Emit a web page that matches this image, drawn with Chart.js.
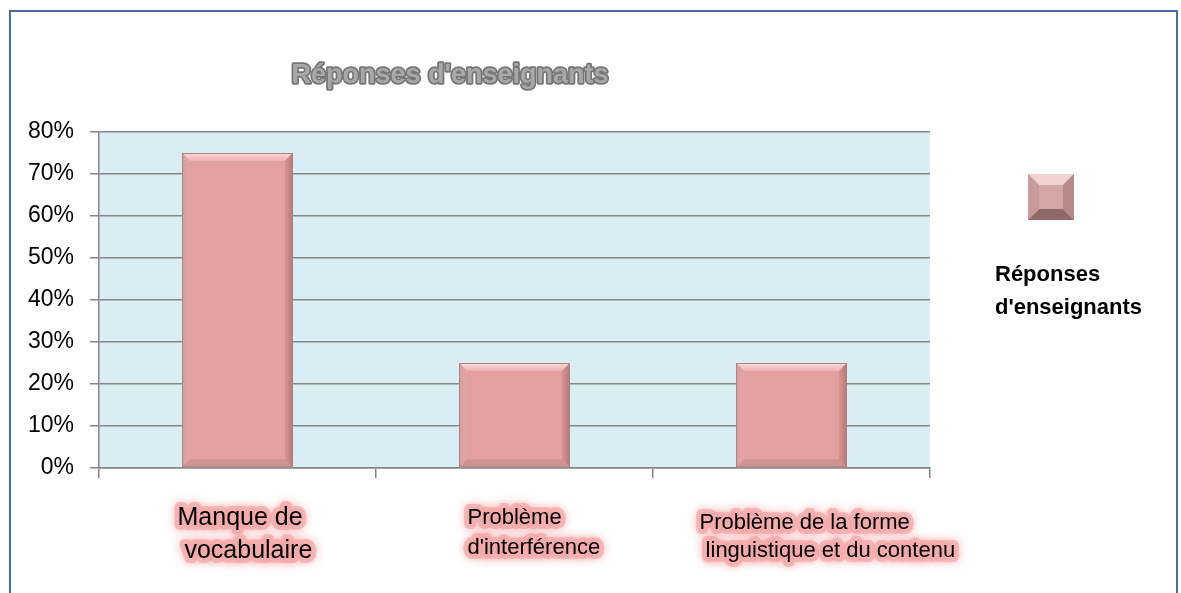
<!DOCTYPE html>
<html>
<head>
<meta charset="utf-8">
<script src="https://cdn.jsdelivr.net/npm/chart.js@4"></script>
<style>
  body { margin: 0; background: #fff; }
  canvas { display: block; }
</style>
</head>
<body>
<canvas id="myChart" width="1181" height="593"></canvas>
<script>
// data
const chartTitle = "Réponses d'enseignants";
const seriesName = "Réponses d'enseignants";
const categories = [
  ["Manque de", " vocabulaire"],
  ["Problème", "d'interférence"],
  ["Problème de la forme", " linguistique et du contenu"]
];
const values = [0.75, 0.25, 0.25];
const yMax = 0.8;
const yStep = 0.1;

// label placement per category (offset of the left edge from the bar centre)
const labelLeft = [-60, -47, -92];
const labelFont = [25, 22, 22];
const labelTop = [518, 518, 523];
const labelGap = [33, 30, 28];

const plotBg = {
  id: 'plotBg',
  beforeDraw(chart) {
    const { ctx, chartArea: a } = chart;
    ctx.save();
    ctx.fillStyle = '#DAEDF3';
    ctx.fillRect(a.left, a.top, a.right - a.left, a.bottom - a.top);
    ctx.restore();
  }
};

const bevel = {
  id: 'bevel',
  afterDatasetsDraw(chart) {
    const { ctx } = chart;
    const meta = chart.getDatasetMeta(0);
    ctx.save();
    meta.data.forEach(bar => {
      const l = bar.x - bar.width / 2, r = bar.x + bar.width / 2;
      const t = bar.y, b = bar.base;
      const d = 8;
      // top facet
      let g = ctx.createLinearGradient(0, t, 0, t + d);
      g.addColorStop(0, '#FBDCDA');
      g.addColorStop(1, '#EBB2B0');
      ctx.fillStyle = g;
      ctx.beginPath();
      ctx.moveTo(l, t); ctx.lineTo(r, t); ctx.lineTo(r - d, t + d); ctx.lineTo(l + d, t + d);
      ctx.closePath(); ctx.fill();
      // right facet
      g = ctx.createLinearGradient(r - d, 0, r, 0);
      g.addColorStop(0, '#D89492');
      g.addColorStop(1, '#B87977');
      ctx.fillStyle = g;
      ctx.beginPath();
      ctx.moveTo(r, t); ctx.lineTo(r, b); ctx.lineTo(r - d, b - d); ctx.lineTo(r - d, t + d);
      ctx.closePath(); ctx.fill();
      // left facet
      g = ctx.createLinearGradient(l, 0, l + d, 0);
      g.addColorStop(0, '#D9A09E');
      g.addColorStop(1, '#E3A5A3');
      ctx.fillStyle = g;
      ctx.beginPath();
      ctx.moveTo(l, t); ctx.lineTo(l, b); ctx.lineTo(l + d, b - d); ctx.lineTo(l + d, t + d);
      ctx.closePath(); ctx.fill();
      // bottom facet
      ctx.fillStyle = '#D09391';
      ctx.beginPath();
      ctx.moveTo(l, b); ctx.lineTo(r, b); ctx.lineTo(r - d, b - d); ctx.lineTo(l + d, b - d);
      ctx.closePath(); ctx.fill();
      ctx.strokeStyle = '#A58583';
      ctx.lineWidth = 1;
      ctx.strokeRect(l + 0.5, t + 0.5, r - l - 1, b - t - 1);
    });
    ctx.restore();
  }
};

const extras = {
  id: 'extras',
  afterDraw(chart) {
    const { ctx } = chart;
    const xs = chart.scales.x;
    ctx.save();

    // frame
    ctx.strokeStyle = '#4A6E9C';
    ctx.lineWidth = 2;
    ctx.strokeRect(10, 11, 1167, 600);

    // title, grey outlined
    ctx.font = 'bold 27px "Liberation Sans", Arial, sans-serif';
    ctx.textAlign = 'center';
    ctx.textBaseline = 'middle';
    ctx.lineJoin = 'round';
    ctx.lineWidth = 3.5;
    ctx.strokeStyle = '#767676';
    ctx.strokeText(chartTitle, 450, 76);
    ctx.fillStyle = '#A8A8A8';
    ctx.fillText(chartTitle, 450, 76);

    // category labels with pink glow
    ctx.textAlign = 'left';
    categories.forEach((lines, i) => {
      const cx = xs.getPixelForValue(i);
      ctx.font = labelFont[i] + 'px "Liberation Sans", Arial, sans-serif';
      lines.forEach((txt, j) => {
        const y = labelTop[i] + j * labelGap[i];
        ctx.shadowColor = 'rgba(242,150,150,0.9)';
        ctx.shadowBlur = 8;
        ctx.lineWidth = 10;
        ctx.strokeStyle = 'rgba(244,170,170,0.75)';
        ctx.strokeText(txt, cx + labelLeft[i], y);
        ctx.shadowBlur = 0;
        ctx.fillStyle = '#000';
        ctx.fillText(txt, cx + labelLeft[i], y);
      });
    });
    ctx.shadowBlur = 0;

    // legend swatch
    const sx = 1028, sy = 174, s = 46, d = 11;
    ctx.fillStyle = '#D3A7A6';
    ctx.fillRect(sx, sy, s, s);
    ctx.fillStyle = '#F1D2D1';
    ctx.beginPath();
    ctx.moveTo(sx, sy); ctx.lineTo(sx + s, sy); ctx.lineTo(sx + s - d, sy + d); ctx.lineTo(sx + d, sy + d);
    ctx.closePath(); ctx.fill();
    ctx.fillStyle = '#8F6A69';
    ctx.beginPath();
    ctx.moveTo(sx, sy + s); ctx.lineTo(sx + s, sy + s); ctx.lineTo(sx + s - d, sy + s - d); ctx.lineTo(sx + d, sy + s - d);
    ctx.closePath(); ctx.fill();
    ctx.fillStyle = '#B58A89';
    ctx.beginPath();
    ctx.moveTo(sx + s, sy); ctx.lineTo(sx + s, sy + s); ctx.lineTo(sx + s - d, sy + s - d); ctx.lineTo(sx + s - d, sy + d);
    ctx.closePath(); ctx.fill();
    ctx.fillStyle = '#C79C9B';
    ctx.beginPath();
    ctx.moveTo(sx, sy); ctx.lineTo(sx, sy + s); ctx.lineTo(sx + d, sy + s - d); ctx.lineTo(sx + d, sy + d);
    ctx.closePath(); ctx.fill();

    // legend text
    const name = chart.data.datasets[0].label.split(' ');
    ctx.fillStyle = '#000';
    ctx.font = 'bold 22px "Liberation Sans", Arial, sans-serif';
    ctx.fillText(name[0], 995, 275);
    ctx.fillText(name[1], 995, 308);
    ctx.restore();
  }
};

new Chart('myChart', {
  type: 'bar',
  data: {
    labels: categories,
    datasets: [{
      label: seriesName,
      data: values,
      backgroundColor: '#E4A09E',
      borderWidth: 0,
      barPercentage: 0.4,
      categoryPercentage: 1
    }]
  },
  options: {
    responsive: false,
    animation: false,
    layout: { padding: { left: 10, top: 132, right: 251, bottom: 0 } },
    plugins: {
      legend: { display: false },
      title: { display: false },
      tooltip: { enabled: false }
    },
    scales: {
      x: {
        afterFit(scale) { scale.height = 125; },
        grid: {
          offset: true,
          drawOnChartArea: false,
          drawTicks: true,
          tickLength: 10,
          color: '#868686',
          lineWidth: 1.5
        },
        border: { color: '#868686', width: 1.5 },
        ticks: { display: false }
      },
      y: {
        min: 0,
        max: yMax,
        afterFit(scale) { scale.width = 89; },
        grid: { color: '#868686', lineWidth: 1.5, tickLength: 9 },
        border: { color: '#868686', width: 1.5 },
        ticks: {
          stepSize: yStep,
          padding: 16,
          color: '#000',
          font: { family: '"Liberation Sans", Arial, sans-serif', size: 23 },
          callback: v => Math.round(v * 100) + '%'
        }
      }
    }
  },
  plugins: [plotBg, bevel, extras]
});
</script>
</body>
</html>
